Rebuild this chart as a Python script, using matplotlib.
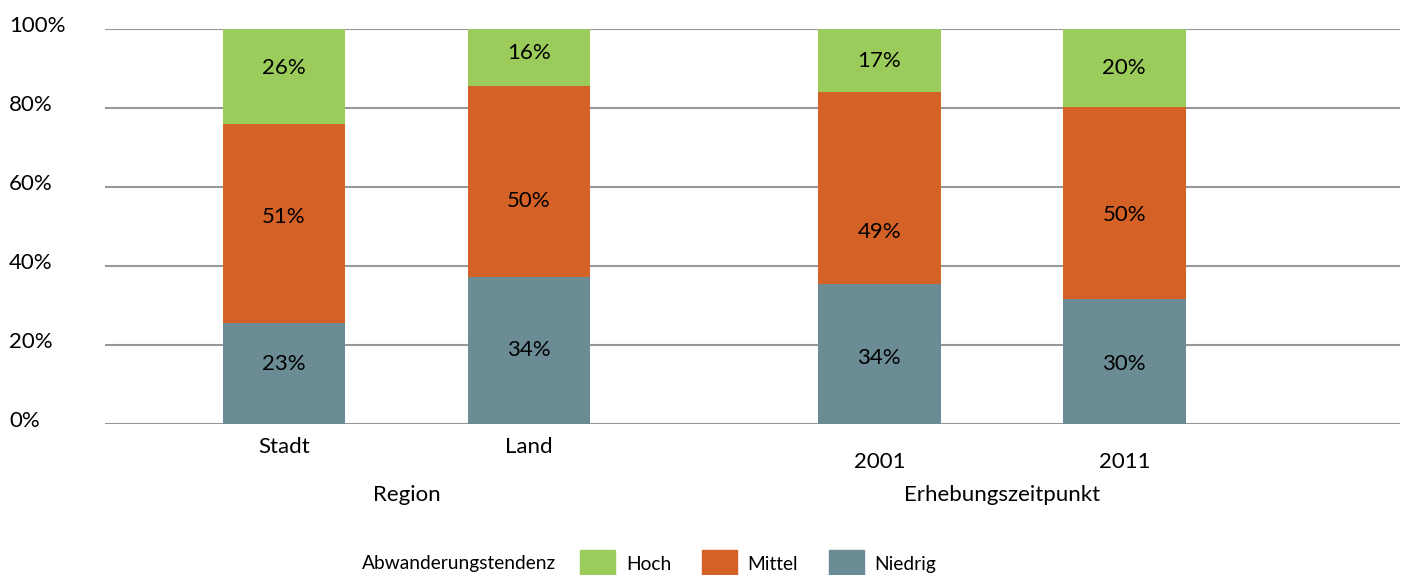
import matplotlib.pyplot as plt
from matplotlib.patches import Patch
from matplotlib.transforms import ScaledTranslation

plt.rcParams["font.family"] = ["Lato", "DejaVu Sans"]

categories = ["Stadt", "Land", "2001", "2011"]
groups = ["Region", "Erhebungszeitpunkt"]
series = ["Niedrig", "Mittel", "Hoch"]

# segment heights (percent of total)
niedrig = [25.6, 37.2, 35.4, 31.6]
mittel = [50.3, 48.4, 48.7, 48.7]
hoch = [24.1, 14.4, 15.9, 19.7]

# printed labels in the chart
niedrig_lbl = ["23%", "34%", "34%", "30%"]
mittel_lbl = ["51%", "50%", "49%", "50%"]
hoch_lbl = ["26%", "16%", "17%", "20%"]

# label nudges in pixels (the original does not centre them exactly)
niedrig_nudge = [9, 1, -4, -2]
mittel_nudge = [7, -20, -44, -12]
hoch_nudge = [9, 4, -1, 0]

colors = {"Niedrig": "#6b8c94", "Mittel": "#d46125", "Hoch": "#9bcb5a"}
xpos = [0, 1, 2.43, 3.43]
label_drop = [0, 0, 1, 1]

fig = plt.figure(figsize=(14.07, 5.75), dpi=100)
ax = fig.add_axes([0.0746, 0.2626, 0.9204, 0.6870])

bottom = [0.0] * 4
for name, vals, lbls, nudge in [("Niedrig", niedrig, niedrig_lbl, niedrig_nudge),
                                ("Mittel", mittel, mittel_lbl, mittel_nudge),
                                ("Hoch", hoch, hoch_lbl, hoch_nudge)]:
    ax.bar(xpos, vals, width=0.5, bottom=bottom, color=colors[name], zorder=3)
    for x, b, v, t, n in zip(xpos, bottom, vals, lbls, nudge):
        ax.annotate(t, (x, b + v / 2), xytext=(0, n), textcoords="offset pixels",
                    ha="center", va="center", fontsize=16, zorder=4)
    bottom = [b + v for b, v in zip(bottom, vals)]

ax.set_xlim(-0.73, 4.555)
ax.set_ylim(0, 100)
ax.set_yticks(range(0, 101, 20))
ax.set_yticklabels([f"{v}%" for v in range(0, 101, 20)], fontsize=16, ha="left")
ax.tick_params(axis="y", length=0, pad=69)
ax.set_xticks([])
ax.grid(axis="y", color="#979797", linewidth=1.5, zorder=0)
for s in ax.spines.values():
    s.set_visible(False)
shift = ScaledTranslation(0, 0.05, fig.dpi_scale_trans)
for lab in ax.get_yticklabels():
    lab.set_transform(lab.get_transform() + shift)

trans = ax.get_xaxis_transform()
for x, c, d in zip(xpos, categories, label_drop):
    ax.text(x, -0.057 - 0.038 * d, c, transform=trans, ha="center", va="center",
            fontsize=16)
for i, g in enumerate(groups):
    gx = (xpos[2 * i] + xpos[2 * i + 1]) / 2
    ax.text(gx, -0.18, g, transform=trans, ha="center", va="center", fontsize=16)

fig.text(362 / 1407, 1 - 564 / 575, "Abwanderungstendenz", ha="left", va="center",
         fontsize=13.8)
handles = [Patch(color=colors[n], label=n) for n in ["Hoch", "Mittel", "Niedrig"]]
fig.legend(handles=handles, ncol=3, frameon=False, loc="center left",
           bbox_to_anchor=(580 / 1407, 1 - 564 / 575), fontsize=13.8,
           handlelength=1.82, handleheight=1.9, handletextpad=0.57,
           columnspacing=1.6, borderpad=0, borderaxespad=0)

fig.savefig("out.png", dpi=100)
